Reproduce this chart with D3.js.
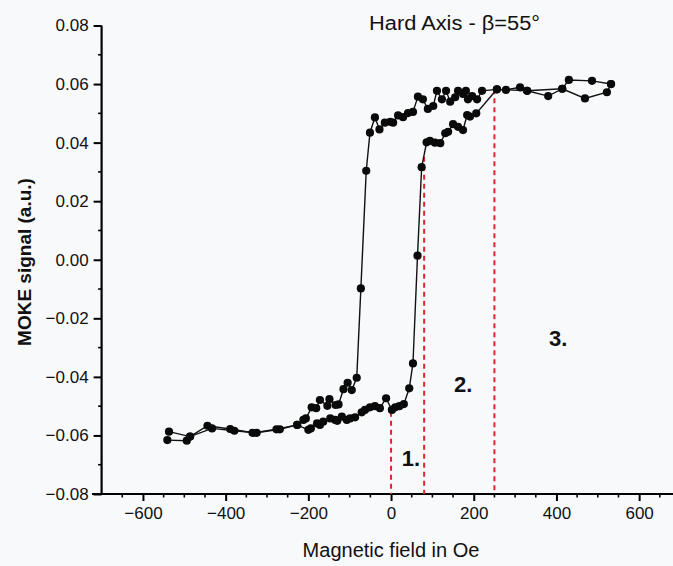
<!DOCTYPE html>
<html>
<head>
<meta charset="utf-8">
<script src="https://cdn.jsdelivr.net/npm/d3@7"></script>
<style>
  html, body { margin: 0; padding: 0; background: #f8f9fb; }
  svg { display: block; font-family: "Liberation Sans", Arial, sans-serif; }
</style>
</head>
<body>
<svg id="chart" width="673" height="566"></svg>
<script>
// Field (Oe) and MOKE signal (a.u.) — branch measured while field decreases
const descField = [532, 522, 469, 414, 329, 256, 220, 208, 196, 186, 181, 174, 162, 155, 143, 133, 123, 111, 102, 89, 77, 65, 53, 41, 29, 17, 5, -2, -15, -28, -39, -51, -60, -73, -83, -95, -105, -115, -127, -134, -149, -154, -172, -181, -192, -206, -212, -227, -269, -325, -379, -433, -486, -537];
const descSignal = [0.0600, 0.0572, 0.0551, 0.0584, 0.0577, 0.0582, 0.0577, 0.0548, 0.0559, 0.0548, 0.0577, 0.0566, 0.0577, 0.0555, 0.0540, 0.0577, 0.0548, 0.0577, 0.0525, 0.0515, 0.0548, 0.0557, 0.0505, 0.0501, 0.0487, 0.0493, 0.0468, 0.0471, 0.0468, 0.0445, 0.0486, 0.0434, 0.0304, -0.0098, -0.0403, -0.0445, -0.0420, -0.0442, -0.0494, -0.0496, -0.0476, -0.0499, -0.0479, -0.0507, -0.0504, -0.0542, -0.0547, -0.0564, -0.0579, -0.0591, -0.0584, -0.0576, -0.0604, -0.0587];

// Branch measured while field increases
const ascField = [-541, -494, -486, -444, -389, -335, -277, -227, -200, -194, -179, -172, -164, -147, -135, -130, -119, -107, -99, -87, -71, -63, -51, -39, -27, -12, 2, 10, 20, 31, 44, 53, 64, 74, 86, 94, 106, 119, 131, 138, 150, 162, 174, 184, 191, 206, 256, 278, 312, 329, 380, 414, 430, 486, 532];
const ascSignal = [-0.0616, -0.0618, -0.0604, -0.0567, -0.0578, -0.0591, -0.0579, -0.0564, -0.0581, -0.0576, -0.0559, -0.0564, -0.0553, -0.0542, -0.0547, -0.0550, -0.0536, -0.0547, -0.0542, -0.0538, -0.0521, -0.0513, -0.0504, -0.0500, -0.0507, -0.0473, -0.0513, -0.0504, -0.0500, -0.0493, -0.0439, -0.0354, 0.0014, 0.0316, 0.0401, 0.0406, 0.0400, 0.0398, 0.0432, 0.0437, 0.0463, 0.0454, 0.0443, 0.0494, 0.0489, 0.0500, 0.0582, 0.0580, 0.0589, 0.0577, 0.0559, 0.0584, 0.0614, 0.0611, 0.0600];

// Axis ticks
const xTickValues = [-600, -400, -200, 0, 200, 400, 600];
const yTickValues = [-0.08, -0.06, -0.04, -0.02, 0.00, 0.02, 0.04, 0.06, 0.08];

// Region markers (dashed lines): field, top signal, label
const markerField = [0, 80, 250];
const markerTop = [-0.0519, 0.0352, 0.0582];
const regionLabels = ["1.", "2.", "3."];
const regionLabelX = [26, 152, 382];
const regionLabelY = [-0.0706, -0.0450, -0.0293];

const titleText = "Hard Axis - β=55°";
const xTitle = "Magnetic field in Oe";
const yTitle = "MOKE signal (a.u.)";

const svg = d3.select("#chart");
const x = d3.scaleLinear().domain([-700, 700]).range([101.6, 680.5]);
const y = d3.scaleLinear().domain([-0.08, 0.08]).range([494, 25.5]);

// Axes
const xMinor = d3.range(-650, 701, 50).filter(v => v % 200 !== 0);
const yMinor = d3.range(-0.07, 0.0801, 0.02);

const gx = svg.append("g").attr("transform", `translate(0,${y(-0.08)})`);
gx.call(d3.axisBottom(x).tickValues(xTickValues).tickSize(7).tickPadding(6).tickFormat(d3.format("d")));
gx.select(".domain").remove();
gx.append("line").attr("x1", 92).attr("x2", 680).attr("stroke", "#000").attr("stroke-width", 2.2);
gx.selectAll(".minor").data(xMinor).enter().append("line")
  .attr("x1", d => x(d)).attr("x2", d => x(d)).attr("y1", 0).attr("y2", 3.5)
  .attr("stroke", "#000").attr("stroke-width", 1.6);
gx.selectAll(".tick line").attr("stroke-width", 2);
gx.selectAll(".tick text").attr("font-size", 17).attr("fill", "#111").attr("font-family", "Liberation Sans, Arial, sans-serif");

const gy = svg.append("g").attr("transform", `translate(${x(-700)},0)`);
gy.call(d3.axisLeft(y).tickValues(yTickValues).tickSize(8).tickPadding(5).tickFormat(d3.format(".2f")));
gy.select(".domain").remove();
gy.append("line").attr("y1", y(0.08)).attr("y2", y(-0.08)).attr("stroke", "#000").attr("stroke-width", 2.2);
gy.selectAll(".minor").data(yMinor).enter().append("line")
  .attr("x1", 0).attr("x2", -3.5).attr("y1", d => y(d)).attr("y2", d => y(d))
  .attr("stroke", "#000").attr("stroke-width", 1.6);
gy.selectAll(".tick line").attr("stroke-width", 2);
gy.selectAll(".tick text").attr("font-size", 17).attr("fill", "#111").attr("font-family", "Liberation Sans, Arial, sans-serif");

// Dashed region markers
svg.selectAll(".marker").data(markerField).enter().append("line")
  .attr("x1", d => x(d)).attr("x2", d => x(d))
  .attr("y1", (d, i) => y(markerTop[i])).attr("y2", y(-0.08))
  .attr("stroke", "#e0262b").attr("stroke-width", 2).attr("stroke-dasharray", "5,4");

// Data lines
const descData = descField.map((f, i) => [f, descSignal[i]]);
const ascData = ascField.map((f, i) => [f, ascSignal[i]]);
const line = d3.line().x(d => x(d[0])).y(d => y(d[1]));
[descData, ascData].forEach(data => {
  svg.append("path").datum(data).attr("d", line)
    .attr("fill", "none").attr("stroke", "#111").attr("stroke-width", 1.4);
});
[descData, ascData].forEach(data => {
  svg.append("g").selectAll("circle").data(data).enter().append("circle")
    .attr("cx", d => x(d[0])).attr("cy", d => y(d[1])).attr("r", 4.1).attr("fill", "#0a0a0a");
});

// Region labels
svg.selectAll(".rlabel").data(regionLabels).enter().append("text")
  .attr("x", (d, i) => x(regionLabelX[i])).attr("y", (d, i) => y(regionLabelY[i]))
  .attr("font-size", 22).attr("font-weight", "bold").attr("fill", "#111")
  .text(d => d);

// Titles
svg.append("text").attr("x", 369).attr("y", 30).attr("font-size", 20).attr("fill", "#111")
  .attr("textLength", 171).attr("lengthAdjust", "spacingAndGlyphs").text(titleText);
svg.append("text").attr("x", 391).attr("y", 557).attr("text-anchor", "middle")
  .attr("font-size", 20).attr("fill", "#111").text(xTitle);
svg.append("text").attr("transform", "translate(31,262) rotate(-90)").attr("text-anchor", "middle")
  .attr("font-size", 19).attr("font-weight", "bold").attr("fill", "#111").text(yTitle);
</script>
</body>
</html>
